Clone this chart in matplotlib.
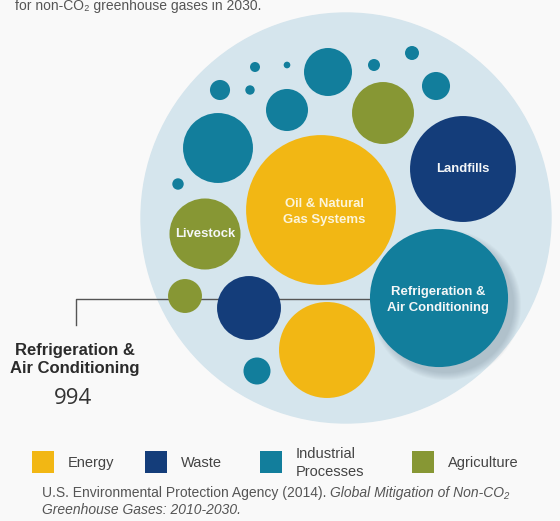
import matplotlib.pyplot as plt
from matplotlib.patches import Circle, Rectangle
from matplotlib import font_manager

# bubble data: label, sector, mitigation volume (MtCO2e)
labels = ['Oil & Natural\nGas Systems', 'Landfills', 'Refrigeration &\nAir Conditioning',
          'Livestock', '', '', '', '', '', '', '', '', '', '', '', '', '', '', '', '']
sectors = ['Energy', 'Waste', 'Industrial', 'Agriculture', 'Agriculture', 'Waste', 'Energy',
           'Industrial', 'Industrial', 'Industrial', 'Agriculture', 'Industrial', 'Industrial',
           'Industrial', 'Industrial', 'Industrial', 'Industrial', 'Industrial', 'Industrial',
           'Industrial']
values = [1170, 585, 994, 263, 60, 213, 480, 38, 255, 92, 200, 120, 21, 4.6, 5.2, 2.3, 7.5,
          10.2, 41, 6.8]

legend_labels = ['Energy', 'Waste', 'Industrial\nProcesses', 'Agriculture']
legend_keys = ['Energy', 'Waste', 'Industrial', 'Agriculture']

colors = {'Energy': '#f2b714', 'Waste': '#143d7a', 'Industrial': '#127e9c',
          'Agriculture': '#879734'}

# layout of the bubble pack (pixel space)
bx = [321, 463, 439, 205, 185, 249, 327, 257, 218, 287, 383, 328, 220, 250, 255, 287, 374,
      412, 436, 178]
by = [210, 169, 298, 234, 296, 308, 350, 371, 148, 110, 113, 72, 90, 90, 67, 65, 65, 53, 86,
      184]
px_per_sqrt = 2.19
bg_center, bg_r = (346, 218), 205

try:
    font_manager.findfont('Liberation Sans Narrow', fallback_to_default=False)
    NARROW = ['Liberation Sans Narrow', 'DejaVu Sans']
    nscale = 1.0
except ValueError:
    NARROW = ['Liberation Sans', 'DejaVu Sans']
    nscale = 0.82
REG = ['Liberation Sans', 'DejaVu Sans']

fig = plt.figure(figsize=(5.6, 5.21), dpi=100, facecolor='#f9f9f9')
ax = fig.add_axes([0, 0, 1, 1])
ax.set_xlim(0, 560)
ax.set_ylim(521, 0)
ax.set_aspect('equal')
ax.axis('off')

ax.text(15, 10, 'for non-CO₂ greenhouse gases in 2030.', family=REG, fontsize=10,
        color='#555555', va='baseline')

ax.add_patch(Circle(bg_center, bg_r, color='#d5e5ed', zorder=1))

# leader line to the outside label
ax.plot([76, 76, 370], [325, 299, 299], color='#555555', lw=1.0, zorder=2)

radii = [px_per_sqrt * v ** 0.5 for v in values]

# soft shadow behind the refrigeration bubble
i_ref = 2
for k in range(8):
    ax.add_patch(Circle((bx[i_ref] + 7, by[i_ref] + 7), radii[i_ref] + 6 - k,
                        color='#3d5566', alpha=0.03, lw=0, zorder=3))

for x, y, r, s in zip(bx, by, radii, sectors):
    ax.add_patch(Circle((x, y), r, color=colors[s], lw=0, zorder=4))

label_offsets = {0: (3, 2), 2: (-1, 2)}
for i, lab in enumerate(labels):
    if not lab:
        continue
    dx, dy = label_offsets.get(i, (0, 0))
    tc = '#fcf5dc' if sectors[i] == 'Energy' else '#f5f7f8'
    ax.text(bx[i] + dx, by[i] + dy, lab, family=NARROW, fontsize=11.5 * nscale,
            fontweight='bold', color=tc, ha='center', va='center', linespacing=1.35,
            zorder=5)

# outside label for the refrigeration bubble
ax.text(75, 360, 'Refrigeration &\nAir Conditioning', family=REG, fontsize=12,
        fontweight='bold', color='#2b2b2b', ha='center', va='center', linespacing=1.25)
ax.text(73, 398, f'{values[i_ref]:.0f}', family=['Open Sans', 'DejaVu Sans'], fontsize=16,
        color='#333333', ha='center', va='center')

# legend
sq_x = [32, 145, 260, 412]
for x, lab, key in zip(sq_x, legend_labels, legend_keys):
    ax.add_patch(Rectangle((x, 451), 22, 22, color=colors[key], lw=0))
    ax.text(x + 36, 463, lab, family=REG, fontsize=10.5, color='#444444', va='center',
            linespacing=1.3)

# source line, regular then italic
src = ax.text(42, 493, 'U.S. Environmental Protection Agency (2014). ', family=REG,
              fontsize=10, color='#555555', va='center')
fig.canvas.draw()
bb = src.get_window_extent()
x_end = ax.transData.inverted().transform((bb.x1, bb.y0))[0]
ax.text(x_end, 493, 'Global Mitigation of Non-CO₂', family=REG, fontsize=10,
        style='italic', color='#555555', va='center')
ax.text(42, 510, 'Greenhouse Gases: 2010-2030.', family=REG, fontsize=10,
        style='italic', color='#555555', va='center')

fig.savefig('out.png', dpi=100, facecolor=fig.get_facecolor())
